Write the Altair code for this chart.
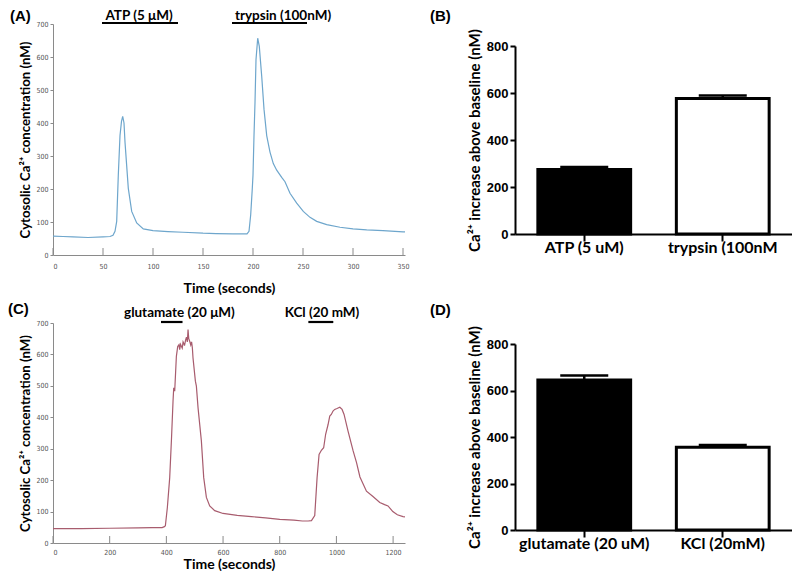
import altair as alt
import pandas as pd

# ---------------- data ----------------
# Panel A trace (time s, cytosolic Ca2+ nM)
a_t = [0, 10, 20, 35, 50, 57, 60, 62, 63.7, 65.3, 67, 68.5, 69.7, 71, 72, 75.3, 78.7, 83.7, 90.3, 100,
       115, 130, 150, 163, 180, 194, 196, 197.7, 199.3, 200, 201, 202, 203, 204.7, 206.3, 208.7, 211,
       213.7, 217, 220.3, 223.7, 228.7, 232, 237, 243.7, 250.3, 257, 263.7, 273.7, 287, 300, 313.7,
       330, 350, 352]
a_y = [57, 56, 55, 53, 55, 56, 60, 72, 102, 242, 362, 405, 420, 400, 342, 202, 132, 97, 79, 74,
       71, 69, 66, 65, 64, 64, 72, 122, 202, 242, 362, 462, 592, 657, 632, 542, 442,
       362, 312, 277, 257, 235, 222, 187, 157, 132, 114, 102, 92, 84, 79, 76,
       74, 70, 70]

# Panel C trace
c_t = [0, 100, 200, 300, 350, 385, 393, 396.5, 403.5, 411.8, 418, 423.5, 426, 429.4, 435.3, 440, 444.7,
       447, 450, 452.9, 456, 459, 461.2, 464, 468.2, 471, 474, 476.5, 479, 482.4, 486, 489, 491.8, 494,
       502.4, 505.9, 511.8, 523.5, 531.8, 541.2, 552.9, 570.6, 600, 650, 700, 750, 800, 850, 880, 900,
       912, 923.5, 931.8, 938.8, 947, 955, 962, 970.6, 976.5, 982, 988, 994, 1002, 1012, 1020, 1027,
       1041, 1059, 1071, 1083, 1106, 1129, 1153, 1170, 1182, 1199, 1215, 1235, 1242]
c_y = [46, 46, 47, 48, 49, 49, 52, 55, 113, 208, 330, 451, 494, 483, 594, 625, 631,
       615, 632, 626, 620, 640, 636, 628, 647, 655, 640, 679, 650, 642, 630, 640, 620, 589,
       515, 499, 430, 325, 208, 145, 118, 103, 94, 88, 84, 80, 75, 73, 70, 70,
       71, 87, 208, 282, 295, 303, 346, 377, 404, 409, 420, 425, 428, 432, 425, 409,
       356, 293, 256, 210, 165, 148, 129, 122, 118, 100, 90, 84, 83]

# stimulus annotations
a_stim = ["ATP (5 μM)", "trypsin (100nM)"]
a_stim_start = [49, 179]
a_stim_end = [125, 254]
a_stim_mid = [86, 230]

c_stim = ["glutamate (20 μM)", "KCl (20 mM)"]
c_stim_start = [381, 901]
c_stim_end = [457, 989]
c_stim_mid = [446, 949]

# Panel B / D bars
b_cats = ["ATP (5 uM)", "trypsin (100nM"]
b_mean = [275, 577]
b_sem = [10, 12]
d_cats = ["glutamate (20 uM)", "KCl (20mM)"]
d_mean = [645, 356]
d_sem = [20, 10]
bar_fill = ["black", "white"]

a_xticks = [0, 50, 100, 150, 200, 250, 300, 350]
c_xticks = [0, 200, 400, 600, 800, 1000, 1200]
trace_yticks = [0, 100, 200, 300, 400, 500, 600, 700]
bar_yticks = [0, 200, 400, 600, 800]

NARROW = "Liberation Sans Narrow, DejaVu Sans Condensed, Roboto Condensed, sans-serif"
TITLE_FONT = "Lato"
GRAY = "#8a8a8a"


def trace_panel(t, y, color, xmax, xticks, stim, s0, s1, smid, letter, letter_x, letter_y,
                W, H, lab_pad, tit_pad, stim_y):
    df = pd.DataFrame({"t": t, "y": y})
    sdf = pd.DataFrame({"label": stim, "t0": s0, "t1": s1, "tm": smid})
    tdf = pd.DataFrame({"t": xticks})
    ldf = pd.DataFrame({"letter": [letter]})
    xs = alt.Scale(domain=[0, xmax], nice=False, zero=False)
    ys = alt.Scale(domain=[0, 700], nice=False)

    line = alt.Chart(df).mark_line(color=color, strokeWidth=1.2).encode(
        x=alt.X("t:Q", scale=xs, axis=alt.Axis(
            values=xticks, title="Time (seconds)", ticks=False, domainColor=GRAY,
            labelFont=NARROW, labelFontSize=7, labelColor="#555", labelPadding=lab_pad, format="d",
            titleFont=TITLE_FONT, titleFontSize=14, titleFontWeight="bold", titleColor="black",
            titlePadding=tit_pad, grid=False)),
        y=alt.Y("y:Q", scale=ys, axis=alt.Axis(
            values=trace_yticks, title="Cytosolic Ca²⁺ concentration (nM)", tickSize=3,
            tickColor=GRAY, domainColor=GRAY, labelFont=NARROW, labelFontSize=7,
            labelColor="#555", labelPadding=2, titleFont=TITLE_FONT, titleFontSize=13.2,
            titleFontWeight="bold", titleColor="black", titlePadding=3, grid=False)),
    )
    # inward x ticks (drawn at the tick positions through the x scale)
    ticks_in = alt.Chart(tdf).mark_rule(color=GRAY, strokeWidth=1).encode(
        x=alt.X("t:Q", scale=xs), y=alt.value(H - 7), y2=alt.value(H))
    bars = alt.Chart(sdf).mark_rule(color="black", strokeWidth=2.2).encode(
        x=alt.X("t0:Q", scale=xs), x2="t1:Q", y=alt.value(-1))
    labels = alt.Chart(sdf).mark_text(font=TITLE_FONT, fontSize=13.5, fontWeight="bold",
                                      color="black", baseline="alphabetic", align="center").encode(
        x=alt.X("tm:Q", scale=xs), y=alt.value(stim_y), text="label:N")
    let = alt.Chart(ldf).mark_text(font="Liberation Sans", fontSize=15, fontWeight="bold",
                                   color="black", align="left", baseline="alphabetic").encode(
        x=alt.value(letter_x), y=alt.value(letter_y), text="letter:N")
    return alt.layer(line, ticks_in, bars, labels, let).properties(width=W, height=H)


def bar_panel(cats, means, sems, letter, W, H, top, letter_dy):
    # plot area spans [top, H] vertically; the space above is left empty
    df = pd.DataFrame({"cat": cats, "mean": means,
                       "top": [m + s for m, s in zip(means, sems)], "fill": bar_fill})
    ldf = pd.DataFrame({"letter": [letter]})
    xs = alt.Scale(domain=cats, paddingInner=0.33, paddingOuter=0.165)
    ys = alt.Scale(domain=[0, 800], nice=False, range=[H, top])
    base = alt.Chart(df)
    err = base.mark_rule(color="black", strokeWidth=2.5).encode(
        x=alt.X("cat:N", scale=xs, sort=cats), y=alt.Y("mean:Q", scale=ys), y2="top:Q")
    cap = base.mark_tick(color="black", thickness=2.5, size=48, orient="horizontal",
                         opacity=1).encode(
        x=alt.X("cat:N", scale=xs, sort=cats), y=alt.Y("top:Q", scale=ys))
    bar = base.mark_bar(stroke="black", strokeWidth=3).encode(
        x=alt.X("cat:N", scale=xs, sort=cats, axis=alt.Axis(
            title=None, labelAngle=0, labelAlign="center", domainColor="black", domainWidth=2,
            tickColor="black", tickWidth=2, tickSize=7, labelFont=TITLE_FONT, labelFontSize=16,
            labelFontWeight="bold", labelColor="black", labelPadding=6)),
        y=alt.Y("mean:Q", scale=ys, axis=alt.Axis(
            values=bar_yticks, title="Ca²⁺ increase above baseline (nM)", domainColor="black",
            domainWidth=2, tickColor="black", tickWidth=2, tickSize=5,
            labelFont="Liberation Sans", labelFontSize=13, labelFontWeight="bold",
            labelColor="black", labelPadding=2, titleFont=TITLE_FONT, titleFontSize=15,
            titleFontWeight="bold", titleColor="black", titlePadding=4, grid=False)),
        fill=alt.Fill("fill:N", scale=None),
    )
    let = alt.Chart(ldf).mark_text(font="Liberation Sans", fontSize=15, fontWeight="bold",
                                   color="black", align="left", baseline="alphabetic").encode(
        x=alt.value(-85), y=alt.value(top + letter_dy), text="letter:N")
    return alt.layer(err, cap, bar, let).properties(width=W, height=H)


A = trace_panel(a_t, a_y, "#6ea6cc", 352, a_xticks, a_stim, a_stim_start, a_stim_end, a_stim_mid,
                "(A)", -43, -3, 352, 231, 7, 12, -4.5)
C = trace_panel(c_t, c_y, "#a85c6e", 1242, c_xticks, c_stim, c_stim_start, c_stim_end, c_stim_mid,
                "(C)", -45, -9, 352, 220, 5, 2, -6)
B = bar_panel(b_cats, b_mean, b_sem, "(B)", 277, 210, 22, -25)
D = bar_panel(d_cats, d_mean, d_sem, "(D)", 277, 207, 21, -29)

chart = alt.concat(A, B, C, D, columns=2, spacing={"row": 68, "column": 110},
                   bounds="flush").properties(
    padding=0
).configure_view(stroke=None).configure_axis(grid=False)

chart.save("out.html", embed_options={"renderer": "svg", "actions": False})
